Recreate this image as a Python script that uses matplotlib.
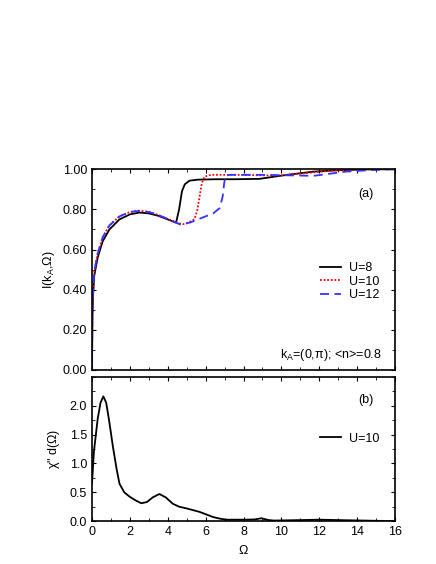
import matplotlib.pyplot as plt
from matplotlib.ticker import MultipleLocator, FixedLocator, FormatStrFormatter

plt.rcParams['font.family'] = ['Liberation Sans', 'DejaVu Sans']
plt.rcParams['mathtext.fontset'] = 'custom'
plt.rcParams['mathtext.rm'] = 'Liberation Sans'
plt.rcParams['mathtext.it'] = 'Liberation Sans'

# panel (a): I(k_A, Omega)
w8 = [0.0, 0.02, 0.05, 0.12, 0.3, 0.56, 0.92, 1.45, 2.0, 2.5, 3.0, 3.5, 4.0, 4.44,
      4.6, 4.75, 4.9, 5.15, 5.6, 6.5, 7.5, 8.85, 10.0, 11.0, 11.7, 13.0, 14.5, 16.0]
i8 = [0.0, 0.25, 0.36, 0.47, 0.56, 0.64, 0.70, 0.75, 0.775, 0.784, 0.78, 0.768, 0.75, 0.734,
      0.80, 0.89, 0.925, 0.943, 0.948, 0.95, 0.95, 0.952, 0.968, 0.98, 0.988, 0.995, 0.999, 1.0]
w10 = [0.0, 0.02, 0.05, 0.12, 0.3, 0.56, 0.92, 1.45, 2.0, 2.42, 3.0, 3.5, 4.0, 4.5, 4.8,
       5.1, 5.4, 5.55, 5.68, 5.8, 5.94, 6.2, 6.4, 7.5, 9.9, 11.0, 12.7, 14.0, 15.0, 16.0]
i10 = [0.0, 0.27, 0.38, 0.49, 0.58, 0.66, 0.72, 0.765, 0.787, 0.794, 0.788, 0.772, 0.752, 0.733, 0.726,
       0.735, 0.75, 0.79, 0.864, 0.93, 0.963, 0.97, 0.972, 0.972, 0.968, 0.978, 0.993, 0.998, 1.0, 1.0]
w12 = [0.0, 0.02, 0.05, 0.12, 0.3, 0.56, 0.92, 1.45, 2.0, 2.5, 3.0, 3.5, 4.0, 4.4, 4.7,
       5.2, 5.86, 6.4, 6.74, 6.9, 6.98, 7.05, 7.3, 9.0, 11.7, 13.4, 15.0, 16.0]
i12 = [0.0, 0.27, 0.38, 0.49, 0.58, 0.66, 0.72, 0.765, 0.787, 0.792, 0.787, 0.772, 0.752, 0.735, 0.723,
       0.735, 0.76, 0.78, 0.806, 0.864, 0.93, 0.968, 0.972, 0.972, 0.967, 0.988, 0.997, 1.0]

# panel (b): chi''_d(Omega), U=10
wb = [0.0, 0.1, 0.3, 0.45, 0.6, 0.75, 0.9, 1.1, 1.3, 1.45, 1.7, 2.0, 2.3, 2.6, 2.9, 3.2,
      3.56, 3.9, 4.27, 4.6, 5.0, 5.68, 6.0, 6.4, 6.8, 7.1, 8.1, 8.6, 8.95, 9.3, 9.6,
      10.5, 12.0, 13.5, 16.0]
xb = [0.655, 1.2, 1.77, 2.05, 2.16, 2.05, 1.75, 1.30, 0.90, 0.65, 0.50, 0.42, 0.36, 0.31, 0.33, 0.41,
      0.47, 0.41, 0.30, 0.25, 0.22, 0.16, 0.12, 0.07, 0.04, 0.025, 0.025, 0.03, 0.05, 0.02, 0.01,
      0.015, 0.025, 0.015, 0.0]

fig = plt.figure(figsize=(4.36, 5.64), dpi=100)
ax1 = fig.add_axes([0.211, 0.344, 0.695, 0.356])
ax2 = fig.add_axes([0.211, 0.076, 0.695, 0.256])

ax1.plot(w8, i8, color='black', lw=1.3, label='U=8')
ax1.plot(w10, i10, color='red', lw=1.3, ls=(0, (1, 1)), label='U=10')
ax1.plot(w12, i12, color='#3333ff', lw=1.3, ls=(0, (5, 3)), label='U=12')
ax1.set_xlim(0, 16)
ax1.set_ylim(0, 1.0)
ax1.yaxis.set_major_locator(MultipleLocator(0.2))
ax1.yaxis.set_minor_locator(MultipleLocator(0.1))
ax1.yaxis.set_major_formatter(FormatStrFormatter('%.2f'))
ax1.xaxis.set_major_locator(MultipleLocator(2))
ax1.xaxis.set_minor_locator(MultipleLocator(1))
ax1.set_xticklabels([])
ax1.set_ylabel(r'I(k$_\mathrm{A}$,$\Omega$)', fontsize=9)
ax1.yaxis.set_label_coords(-0.115, 0.5)
ax1.legend(loc='center right', bbox_to_anchor=(0.985, 0.44), frameon=False, fontsize=9,
           handlelength=1.7, labelspacing=0.1, handletextpad=0.6)
ax1.text(0.93, 0.86, '(a)', transform=ax1.transAxes, ha='right', fontsize=9)
ax1.text(0.957, 0.06, r'k$_\mathrm{A}$=(0,$\pi$); <n>=0.8', transform=ax1.transAxes,
         ha='right', fontsize=9)

ax2.plot(wb, xb, color='black', lw=1.3, label='U=10')
ax2.set_xlim(0, 16)
ax2.set_ylim(0, 2.5)
ax2.yaxis.set_major_locator(FixedLocator([0.0, 0.5, 1.0, 1.5, 2.0]))
ax2.yaxis.set_minor_locator(MultipleLocator(0.25))
ax2.yaxis.set_major_formatter(FormatStrFormatter('%.1f'))
ax2.xaxis.set_major_locator(MultipleLocator(2))
ax2.xaxis.set_minor_locator(MultipleLocator(1))
ax2.set_xlabel(r'$\Omega$', fontsize=9)
ax2.set_ylabel(r'$\chi$" d($\Omega$)', fontsize=9)
ax2.yaxis.set_label_coords(-0.1, 0.5)
ax2.legend(loc='upper right', bbox_to_anchor=(0.985, 0.69), frameon=False, fontsize=9,
           handlelength=1.7, handletextpad=0.6)
ax2.text(0.93, 0.82, '(b)', transform=ax2.transAxes, ha='right', fontsize=9)

for ax in (ax1, ax2):
    ax.tick_params(which='both', direction='in', top=True, right=True, labelsize=9)
    ax.tick_params(which='major', length=3)
    ax.tick_params(which='minor', length=2)
    for s in ax.spines.values():
        s.set_linewidth(1.2)

fig.savefig('out.png', dpi=100)
